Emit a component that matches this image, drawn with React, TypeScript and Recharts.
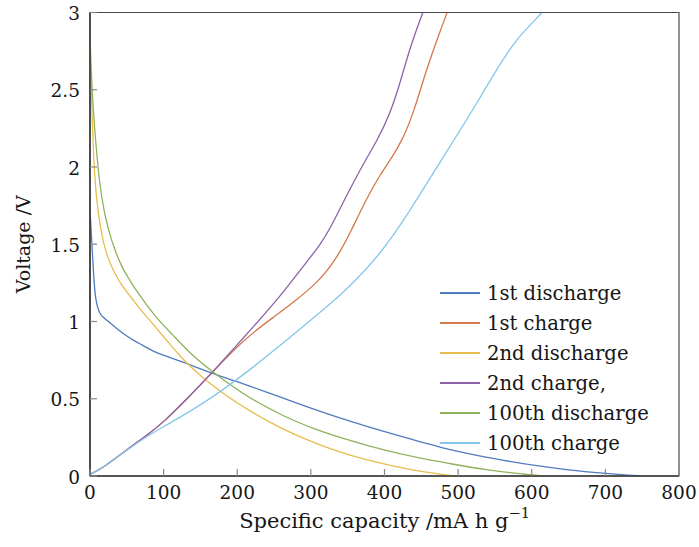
import React from 'react';
import { LineChart, Line, XAxis, YAxis, ReferenceArea, Legend, Label } from 'recharts';

const FONT = '"DejaVu Serif", "Liberation Serif", serif';
const TEXT_COLOR = '#161616';
const TICK_FONT = 18.5;
const LEGEND_FONT = 19.6;

// Specific capacity (mA h g^-1) and voltage (V) for each cycle
const firstDischargeCapacity = [0, 1, 2.5, 5, 7, 10, 14, 20, 25, 35, 52, 70, 90, 107, 130, 152, 175, 197, 218, 256, 300, 350, 398, 450, 489, 540, 602, 650, 697, 730, 750];
const firstDischargeVoltage = [1.72, 1.64, 1.51, 1.3, 1.18, 1.1, 1.05, 1.02, 1.0, 0.96, 0.9, 0.85, 0.8, 0.77, 0.73, 0.69, 0.65, 0.615, 0.58, 0.515, 0.44, 0.36, 0.29, 0.22, 0.17, 0.12, 0.07, 0.04, 0.018, 0.006, 0];

const firstChargeCapacity = [0, 20, 50, 82, 100, 130, 166, 200, 227, 250, 281, 310, 326, 342, 353, 376, 394, 410, 425, 440, 455, 471, 485];
const firstChargeVoltage = [0.01, 0.06, 0.17, 0.28, 0.35, 0.49, 0.67, 0.84, 0.95, 1.03, 1.14, 1.26, 1.35, 1.47, 1.57, 1.8, 1.95, 2.06, 2.18, 2.36, 2.6, 2.82, 3.0];

const secondDischargeCapacity = [0, 1, 2, 3.5, 5, 8, 11.5, 18, 24, 30, 40, 52, 65, 79, 102, 120, 134, 154, 174, 218, 260, 308, 350, 398, 440, 466, 495];
const secondDischargeVoltage = [2.8, 2.6, 2.45, 2.25, 2.07, 1.85, 1.7, 1.52, 1.42, 1.35, 1.26, 1.18, 1.1, 1.02, 0.89, 0.79, 0.72, 0.635, 0.56, 0.42, 0.31, 0.21, 0.14, 0.08, 0.038, 0.018, 0];

const secondChargeCapacity = [0, 20, 50, 82, 100, 130, 166, 200, 218, 258, 295, 313, 326, 349, 371, 390, 408, 421, 435, 452];
const secondChargeVoltage = [0.01, 0.06, 0.17, 0.28, 0.35, 0.49, 0.67, 0.85, 0.945, 1.16, 1.39, 1.5, 1.6, 1.82, 2.02, 2.17, 2.35, 2.54, 2.78, 3.0];

const hundredthDischargeCapacity = [0, 1.5, 3, 6, 9, 12, 18, 25, 35, 43, 55, 66, 88, 113, 140, 168, 197, 218, 263, 308, 353, 398, 444, 489, 540, 588, 615];
const hundredthDischargeVoltage = [2.85, 2.65, 2.5, 2.27, 2.1, 1.95, 1.75, 1.6, 1.45, 1.36, 1.26, 1.18, 1.04, 0.91, 0.78, 0.67, 0.57, 0.505, 0.39, 0.3, 0.23, 0.17, 0.12, 0.08, 0.04, 0.013, 0];

const hundredthChargeCapacity = [0, 20, 50, 82, 100, 130, 173, 218, 265, 300, 330, 349, 394, 435, 466, 503, 530, 557, 580, 600, 614];
const hundredthChargeVoltage = [0.01, 0.06, 0.17, 0.27, 0.32, 0.4, 0.53, 0.69, 0.87, 1.01, 1.13, 1.21, 1.43, 1.72, 1.96, 2.24, 2.45, 2.67, 2.83, 2.93, 3.0];

const xTicks = [0, 100, 200, 300, 400, 500, 600, 700, 800];
const yTicks = [0, 0.5, 1, 1.5, 2, 2.5, 3];

const toPoints = (cap: number[], volt: number[]) => cap.map((x, i) => ({ x, y: volt[i] }));

// Discharge curves pass through every reading; charge curves use a B-spline for a smoother trace
const series = [
  { name: '1st discharge', color: '#4f7bbf', curve: 'monotone', data: toPoints(firstDischargeCapacity, firstDischargeVoltage) },
  { name: '1st charge', color: '#d4784a', curve: 'basis', data: toPoints(firstChargeCapacity, firstChargeVoltage) },
  { name: '2nd discharge', color: '#e8bd4e', curve: 'monotone', data: toPoints(secondDischargeCapacity, secondDischargeVoltage) },
  { name: '2nd charge,', color: '#8c62a8', curve: 'basis', data: toPoints(secondChargeCapacity, secondChargeVoltage) },
  { name: '100th discharge', color: '#90b25a', curve: 'monotone', data: toPoints(hundredthDischargeCapacity, hundredthDischargeVoltage) },
  { name: '100th charge', color: '#84c6ea', curve: 'basis', data: toPoints(hundredthChargeCapacity, hundredthChargeVoltage) },
];

const TICK_LEN = 7;
const X_GAP = 16;
const Y_GAP = 10;

const XTick = (props: any) => {
  const { x, y, payload } = props;
  const axisY = y - X_GAP;
  return (
    <g>
      <line x1={x} x2={x} y1={axisY} y2={axisY - TICK_LEN} stroke="#8a8a8a" strokeWidth={1.2} />
      <text x={x} y={y} textAnchor="middle" dominantBaseline="central" fontFamily={FONT} fontSize={TICK_FONT} fill={TEXT_COLOR}>
        {String(payload.value)}
      </text>
    </g>
  );
};

const YTick = (props: any) => {
  const { x, y, payload } = props;
  const axisX = x + Y_GAP;
  return (
    <g>
      <line x1={axisX} x2={axisX + TICK_LEN} y1={y} y2={y} stroke="#8a8a8a" strokeWidth={1.2} />
      <text x={x} y={y + 1} textAnchor="end" dominantBaseline="central" fontFamily={FONT} fontSize={TICK_FONT} fill={TEXT_COLOR}>
        {String(payload.value)}
      </text>
    </g>
  );
};

const XTitle = (props: any) => {
  const { viewBox } = props;
  const cx = viewBox.x + viewBox.width / 2;
  return (
    <text x={cx} y={viewBox.y + 52} textAnchor="middle" fontFamily={FONT} fontSize={21} fill={TEXT_COLOR}>
      Specific capacity /mA h g
      <tspan dy={-10} fontSize={14.5}>−1</tspan>
    </text>
  );
};

const YTitle = (props: any) => {
  const { viewBox } = props;
  const cx = viewBox.x + 23;
  const cy = viewBox.y + viewBox.height / 2;
  return (
    <text
      x={cx}
      y={cy}
      transform={`rotate(-90, ${cx}, ${cy})`}
      textAnchor="middle"
      dominantBaseline="central"
      fontFamily={FONT}
      fontSize={19}
      fill={TEXT_COLOR}
    >
      Voltage /V
    </text>
  );
};

// Legend rows follow the series order
const LegendContent = () => (
  <div style={{ fontFamily: FONT, fontSize: LEGEND_FONT, color: TEXT_COLOR }}>
    {series.map((s) => (
      <div key={s.name} style={{ display: 'flex', alignItems: 'center', height: 30, whiteSpace: 'nowrap' }}>
        <span style={{ display: 'inline-block', width: 40, height: 1.5, background: s.color, marginRight: 7 }} />
        <span>{s.name}</span>
      </div>
    ))}
  </div>
);

export default function App() {
  return (
    <div style={{ position: 'absolute', left: 0, top: 0, background: '#fff' }}>
      <LineChart width={699} height={547} margin={{ top: 12.5, right: 20, left: 0, bottom: 6 }}>
        <XAxis
          type="number"
          dataKey="x"
          domain={[0, 800]}
          ticks={xTicks}
          interval={0}
          allowDataOverflow
          height={65}
          tickSize={0}
          tickMargin={X_GAP}
          tickLine={false}
          axisLine={{ stroke: '#3a3a3a', strokeWidth: 1.6 }}
          tick={<XTick />}
        >
          <Label content={<XTitle />} />
        </XAxis>
        <YAxis
          type="number"
          dataKey="y"
          domain={[0, 3]}
          ticks={yTicks}
          interval={0}
          allowDataOverflow
          width={90}
          tickSize={0}
          tickMargin={Y_GAP}
          tickLine={false}
          axisLine={{ stroke: '#3a3a3a', strokeWidth: 1.6 }}
          tick={<YTick />}
        >
          <Label content={<YTitle />} />
        </YAxis>
        {series.map((s) => (
          <Line
            key={s.name}
            data={s.data}
            dataKey="y"
            name={s.name}
            type={s.curve as any}
            stroke={s.color}
            strokeWidth={1.3}
            dot={false}
            activeDot={false}
            isAnimationActive={false}
          />
        ))}
        <ReferenceArea x1={0} x2={800} y1={0} y2={3} fill="none" stroke="#4a4a4a" strokeWidth={1.2} ifOverflow="visible" />
        <Legend
          layout="vertical"
          align="center"
          verticalAlign="middle"
          content={<LegendContent />}
          wrapperStyle={{ position: 'absolute', left: 440, top: 278, width: 'auto', height: 'auto' }}
        />
      </LineChart>
    </div>
  );
}
